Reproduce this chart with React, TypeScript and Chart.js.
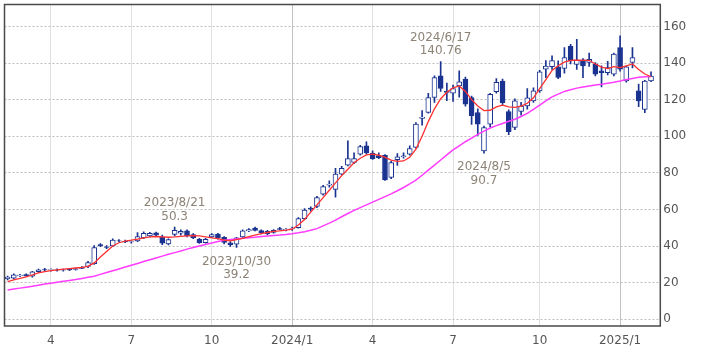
import { useEffect, useRef } from 'react';
import { Chart, registerables } from 'chart.js';

Chart.register(...registerables);

// Weekly categories (Monday of each week); the last one is an empty slot
const weeks = [
  '2023/2/13','2023/2/20','2023/2/27','2023/3/6','2023/3/13','2023/3/20','2023/3/27','2023/4/3','2023/4/10','2023/4/17',
  '2023/4/24','2023/5/1','2023/5/8','2023/5/15','2023/5/22','2023/5/29','2023/6/5','2023/6/12','2023/6/19','2023/6/26',
  '2023/7/3','2023/7/10','2023/7/17','2023/7/24','2023/7/31','2023/8/7','2023/8/14','2023/8/21','2023/8/28','2023/9/4',
  '2023/9/11','2023/9/18','2023/9/25','2023/10/2','2023/10/9','2023/10/16','2023/10/23','2023/10/30','2023/11/6','2023/11/13',
  '2023/11/20','2023/11/27','2023/12/4','2023/12/11','2023/12/18','2023/12/25','2024/1/1','2024/1/8','2024/1/15','2024/1/22',
  '2024/1/29','2024/2/5','2024/2/12','2024/2/19','2024/2/26','2024/3/4','2024/3/11','2024/3/18','2024/3/25','2024/4/1',
  '2024/4/8','2024/4/15','2024/4/22','2024/4/29','2024/5/6','2024/5/13','2024/5/20','2024/5/27','2024/6/3','2024/6/10',
  '2024/6/17','2024/6/24','2024/7/1','2024/7/8','2024/7/15','2024/7/22','2024/7/29','2024/8/5','2024/8/12','2024/8/19',
  '2024/8/26','2024/9/2','2024/9/9','2024/9/16','2024/9/23','2024/9/30','2024/10/7','2024/10/14','2024/10/21','2024/10/28',
  '2024/11/4','2024/11/11','2024/11/18','2024/11/25','2024/12/2','2024/12/9','2024/12/16','2024/12/23','2024/12/30','2025/1/6',
  '2025/1/13','2025/1/20','2025/1/27','2025/2/3','2025/2/10','2025/2/17',
];

const openP = [
  22.2,22.4,23.8,24.4,23.5,26.0,27.1,27.0,27.0,26.8,
  27.5,27.2,28.3,28.8,30.4,40.8,39.6,40.0,42.9,42.6,
  42.2,42.8,44.5,45.5,47.2,44.8,41.2,46.4,47.0,48.3,
  46.2,43.7,41.9,45.0,46.5,44.8,41.8,41.0,45.0,48.2,
  49.8,48.5,46.8,47.4,49.6,48.8,49.4,50.1,55.0,60.8,
  61.6,68.3,73.3,71.0,79.3,84.2,85.7,90.2,94.8,90.7,
  89.5,89.6,77.5,87.2,88.8,90.2,93.9,109.8,113.0,121.2,
  133.0,124.5,123.5,127.5,131.2,121.2,113.0,92.0,106.6,124.3,
  130.2,113.5,104.8,113.5,116.6,119.3,124.8,136.7,138.0,138.0,
  137.0,149.1,139.3,141.7,140.3,139.4,135.7,134.8,133.9,148.5,
  130.2,140.3,124.8,114.7,130.2,
];
const highP = [
  23.6,24.8,24.6,24.8,26.2,27.4,27.8,27.6,27.5,27.4,
  27.8,28.0,28.8,31.6,40.3,41.4,40.2,44.0,43.5,43.2,
  42.9,47.3,47.8,47.5,47.6,46.0,44.0,50.3,48.8,48.8,
  46.8,44.2,44.2,46.8,47.0,45.2,42.4,44.8,48.8,49.6,
  50.3,48.9,48.6,49.0,50.2,49.6,50.4,55.5,60.5,61.4,
  67.2,73.2,75.6,82.5,83.5,97.5,91.0,95.0,97.0,92.0,
  91.0,90.0,86.3,90.5,91.0,94.8,107.5,114.0,123.5,133.0,
  140.76,129.0,128.0,135.8,132.4,122.0,115.0,105.6,123.5,131.5,
  131.2,114.5,120.5,118.5,126.0,126.5,136.0,141.3,143.9,141.2,
  148.5,150.3,153.0,142.5,145.5,140.2,138.5,141.0,145.4,154.9,
  138.5,148.5,128.5,130.5,135.2,
];
const lowP = [
  21.5,22.0,23.2,23.4,23.0,25.6,26.6,26.3,26.2,26.2,
  26.6,26.8,27.6,28.2,30.0,39.6,38.6,39.8,42.2,41.8,
  41.6,42.4,44.0,45.0,45.4,40.8,40.6,45.5,46.0,45.0,
  44.0,41.4,41.6,44.6,43.8,41.2,39.8,39.2,44.6,47.8,
  48.2,46.6,46.2,47.0,48.8,48.2,48.6,49.8,54.6,59.0,
  61.0,67.8,72.2,66.7,78.8,83.8,85.0,89.6,90.2,87.3,
  87.8,75.8,76.8,84.0,88.0,89.6,93.5,106.0,112.6,118.5,
  124.5,119.5,119.0,121.4,116.5,106.5,100.5,90.7,105.0,123.6,
  116.8,100.8,103.6,111.5,114.8,118.5,124.0,132.0,136.5,131.5,
  134.5,139.5,136.5,132.0,138.2,133.0,127.0,133.5,133.0,135.5,
  129.5,137.3,116.2,112.9,129.8,
];
const closeP = [
  23.0,24.2,24.1,23.8,25.9,27.0,26.9,27.2,26.8,27.0,
  27.0,27.7,27.8,31.0,39.2,40.2,39.3,43.3,42.8,42.3,
  42.5,45.2,47.0,47.0,45.9,41.5,43.5,48.6,48.0,45.6,
  44.5,41.9,43.6,46.2,44.5,42.0,40.6,44.5,48.3,49.0,
  48.6,47.1,48.0,48.6,49.1,49.2,49.6,55.0,59.6,60.2,
  66.5,72.5,73.8,79.3,82.4,87.8,87.8,94.4,90.9,87.8,
  88.3,76.2,85.6,88.8,89.3,93.3,106.6,110.5,121.2,132.1,
  126.1,123.9,126.1,129.7,117.5,111.2,106.6,104.8,122.9,129.4,
  118.4,102.5,119.4,116.5,121.0,124.8,135.2,138.4,141.3,132.2,
  143.0,141.2,141.7,138.5,142.0,133.9,134.8,137.5,144.9,136.7,
  138.0,143.0,119.3,130.2,132.9,
];

// 13-week (red) and 26-week (magenta) moving averages
const ma13 = [
  20.6,21.5,22.3,23.2,24.2,25.3,26.0,26.6,27.0,27.4,
  27.7,28.0,28.3,28.9,30.8,34.0,37.0,40.0,41.8,42.7,
  43.2,43.8,44.5,45.0,45.2,45.0,44.8,45.0,45.3,45.6,
  45.7,45.5,45.0,44.5,44.0,43.2,42.8,43.5,44.2,45.2,
  46.0,46.8,47.4,48.0,48.3,48.7,49.2,51.5,54.5,58.5,
  62.5,66.5,70.5,74.5,78.5,82.0,85.5,88.0,89.8,90.2,
  89.7,88.5,87.0,86.3,86.5,88.5,93.0,100.0,108.0,115.0,
  120.5,124.0,126.5,127.5,124.5,120.0,116.5,114.0,114.2,116.0,
  117.0,116.0,115.8,116.5,118.0,121.0,126.0,131.0,136.0,138.5,
  140.5,141.5,141.6,141.5,141.5,139.5,137.8,137.0,138.0,137.5,
  138.5,139.5,136.5,134.0,132.5,
];
const ma26 = [
  16.0,16.5,17.0,17.5,18.0,18.6,19.2,19.7,20.2,20.7,
  21.2,21.7,22.3,22.9,23.5,24.5,25.5,26.5,27.5,28.5,
  29.5,30.5,31.5,32.5,33.5,34.5,35.5,36.4,37.3,38.3,
  39.2,40.0,40.8,41.7,42.5,43.1,43.6,43.9,44.2,44.5,
  44.8,45.2,45.5,45.8,46.0,46.3,46.7,47.2,47.8,48.6,
  49.5,51.0,52.5,54.2,56.0,57.8,59.5,61.0,62.5,64.0,
  65.5,67.0,68.5,70.2,72.0,74.0,76.0,78.7,81.5,84.2,
  87.0,89.8,92.5,94.8,97.0,99.0,101.0,102.8,104.5,105.8,
  107.0,108.2,109.3,110.8,112.5,114.7,117.0,119.3,121.5,123.0,
  124.5,125.4,126.3,126.9,127.5,128.0,128.4,129.0,129.5,130.2,
  131.0,131.6,132.2,132.5,132.7,
];

const tickDates = ['2023/4/3','2023/7/3','2023/10/2','2024/1/1','2024/4/1','2024/7/1','2024/10/7','2025/1/6'];
const tickLabels = ['4','7','10','2024/1','4','7','10','2025/1'];
const yTicks = [0, 20, 40, 60, 80, 100, 120, 140, 160];

const noteDates = ['2023/8/21', '2023/10/30', '2024/6/17', '2024/8/5'];
const noteValues = [50.3, 39.2, 140.76, 90.7];
const noteTexts = ['50.3', '39.2', '140.76', '90.7'];
const noteSides = ['above', 'below', 'above', 'below'];

const NAVY = '#1b3390';
const FONT = '"DejaVu Sans", Verdana, sans-serif';

export default function App() {
  const ref = useRef<HTMLCanvasElement>(null);

  useEffect(() => {
    if (!ref.current) return;
    const n = openP.length;
    const bodies = weeks.map((_, i) => (i < n ? [Math.min(openP[i], closeP[i]), Math.max(openP[i], closeP[i])] : null));
    const wicks = weeks.map((_, i) => (i < n ? [lowP[i], highP[i]] : null));
    const bodyColors = weeks.map((_, i) => (i < n && closeP[i] >= openP[i] ? '#ffffff' : NAVY));

    const framePlugin = {
      id: 'frame',
      afterDatasetsDraw(chart: any) {
        const { ctx, chartArea: a, scales } = chart;
        const xs = scales.x;
        const ys = scales.y;
        ctx.save();
        // annotations
        ctx.fillStyle = '#8c8376';
        ctx.font = `12px ${FONT}`;
        ctx.textAlign = 'center';
        ctx.textBaseline = 'middle';
        noteDates.forEach((d, k) => {
          const idx = weeks.indexOf(d);
          const x = xs.getPixelForValue(idx);
          const y = ys.getPixelForValue(noteValues[k]);
          if (noteSides[k] === 'above') {
            ctx.fillText(d, x, y - 24);
            ctx.fillText(noteTexts[k], x, y - 10.5);
          } else {
            ctx.fillText(d, x, y + 14);
            ctx.fillText(noteTexts[k], x, y + 27.5);
          }
        });
        // plot frame
        ctx.strokeStyle = '#4a4a4a';
        ctx.lineWidth = 1.5;
        ctx.strokeRect(a.left, a.top, a.right - a.left, a.bottom - a.top);
        ctx.restore();
      },
    };

    const chart = new Chart(ref.current, {
      type: 'bar',
      data: {
        labels: weeks,
        datasets: [
          {
            type: 'line',
            label: 'MA13',
            data: weeks.map((_, i) => (i < n ? ma13[i] : null)),
            borderColor: '#ff3030',
            borderWidth: 1.3,
            pointRadius: 0,
            order: 0,
          } as any,
          {
            type: 'line',
            label: 'MA26',
            data: weeks.map((_, i) => (i < n ? ma26[i] : null)),
            borderColor: '#ff3cff',
            borderWidth: 1.5,
            pointRadius: 0,
            order: 1,
          } as any,
          {
            type: 'bar',
            label: 'body',
            data: bodies as any,
            backgroundColor: bodyColors,
            borderColor: NAVY,
            borderWidth: 1,
            borderSkipped: false,
            barThickness: 5,
            grouped: false,
            order: 2,
          } as any,
          {
            type: 'bar',
            label: 'wick',
            data: wicks as any,
            backgroundColor: NAVY,
            borderWidth: 0,
            barThickness: 1,
            grouped: false,
            order: 3,
          } as any,
        ],
      },
      options: {
        responsive: false,
        animation: false,
        devicePixelRatio: 1,
        layout: { padding: { left: 4.5, top: 4.5, right: 0, bottom: 0 } },
        plugins: { legend: { display: false }, tooltip: { enabled: false } },
        scales: {
          x: {
            type: 'category',
            offset: true,
            grid: {
              offset: false,
              drawTicks: false,
              lineWidth: 1,
              color: (c: any) => {
                const d = weeks[c.index];
                const k = tickDates.indexOf(d);
                if (k < 0) return 'rgba(0,0,0,0)';
                return tickLabels[k].includes('/') ? '#c2c2c2' : '#e0e0e0';
              },
            },
            border: { display: false },
            ticks: {
              autoSkip: false,
              maxRotation: 0,
              padding: 8,
              color: '#555555',
              font: { family: FONT, size: 12 },
              callback: (_v: any, i: number) => {
                const k = tickDates.indexOf(weeks[i]);
                return k < 0 ? '' : tickLabels[k];
              },
            },
            afterFit: (s: any) => {
              s.height = 28;
              s.paddingLeft = 0;
              s.paddingRight = 0;
            },
          },
          y: {
            type: 'linear',
            position: 'right',
            min: -3.7,
            max: 172,
            grid: { color: '#bdbdbd', lineWidth: 1, drawTicks: false },
            border: { display: false, dash: [2, 2] },
            afterBuildTicks: (s: any) => {
              s.ticks = yTicks.map((v) => ({ value: v }));
            },
            ticks: {
              padding: 3,
              color: '#555555',
              font: { family: FONT, size: 12 },
            },
            afterFit: (s: any) => {
              s.width = 48.7;
              s.paddingTop = 0;
              s.paddingBottom = 0;
            },
          },
        },
      } as any,
      plugins: [framePlugin],
    });
    return () => chart.destroy();
  }, []);

  return (
    <div style={{ position: 'fixed', left: 0, top: 0, width: 709, height: 354, background: '#ffffff' }}>
      <canvas ref={ref} width={709} height={354} style={{ display: 'block' }} />
    </div>
  );
}
